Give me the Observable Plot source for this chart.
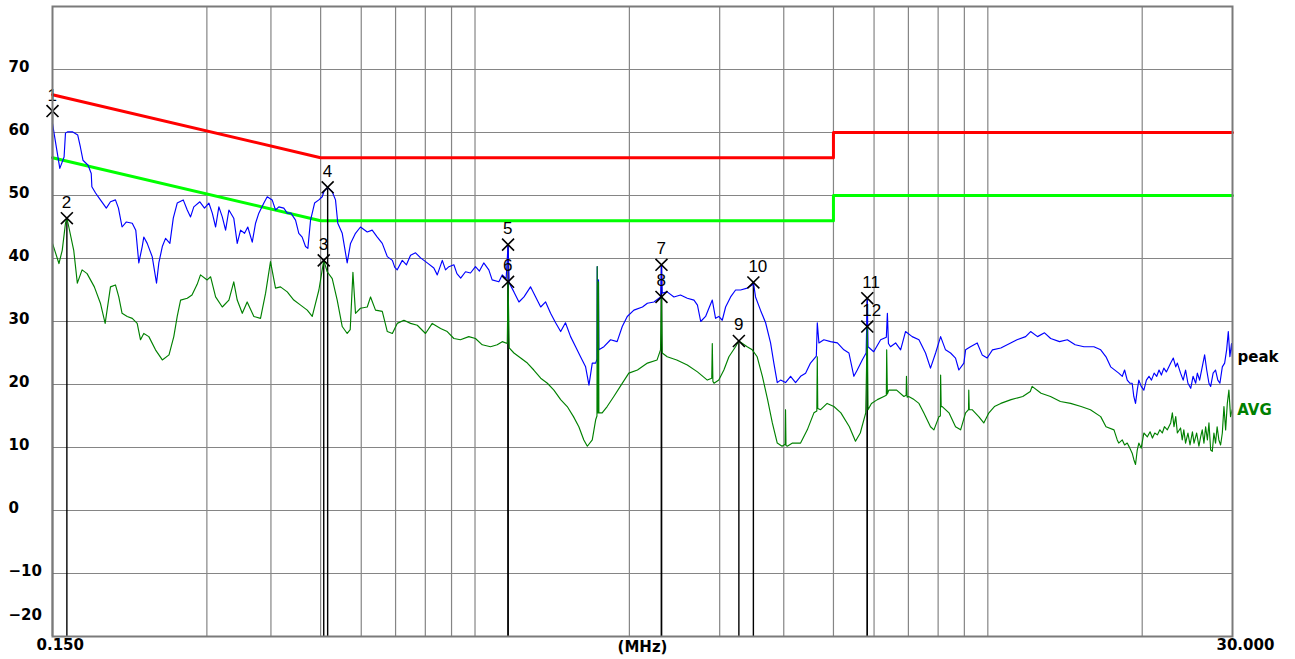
<!DOCTYPE html>
<html>
<head>
<meta charset="utf-8">
<script src="https://cdn.jsdelivr.net/npm/d3@7"></script>
<script src="https://cdn.jsdelivr.net/npm/@observablehq/plot@0.6"></script>
<style>
  html, body { margin: 0; padding: 0; background: #ffffff; }
  #chart svg { display: block; }
</style>
</head>
<body>
<div id="chart"></div>
<script>
// Conducted emission scan, 0.15 – 30 MHz, level in dBµV.

// Peak detector sweep: [MHz, dBµV]
const peakSweep = [
  [0.150, 61.4], [0.155, 54.3], [0.158, 56.1], [0.159, 59.9], [0.1604, 60.1], [0.164, 60.1], [0.168, 59.6], [0.170, 57.7],
  [0.172, 55.6], [0.176, 54.8], [0.1785, 53.5], [0.179, 51.4], [0.182, 50.4], [0.186, 49.3], [0.191, 48.0], [0.1946, 49.0],
  [0.199, 49.3], [0.2017, 48.0], [0.205, 45.0], [0.209, 45.8], [0.2146, 45.6], [0.218, 44.5], [0.221, 39.3], [0.2244, 41.9],
  [0.226, 43.4], [0.2295, 42.4], [0.2347, 40.3], [0.2393, 36.1], [0.2418, 39.3], [0.2456, 41.9], [0.2492, 43.2], [0.2541, 42.4],
  [0.258, 46.4], [0.2626, 48.8], [0.2698, 49.3], [0.2747, 47.7], [0.2788, 46.6], [0.2829, 48.2], [0.2907, 49.0], [0.2968, 48.0],
  [0.3027, 48.8], [0.3074, 47.2], [0.312, 45.0], [0.3166, 48.2], [0.3215, 46.6], [0.3263, 44.5], [0.3312, 47.7], [0.3385, 46.4],
  [0.3438, 42.4], [0.349, 44.5], [0.3553, 44.0], [0.3605, 45.0], [0.3678, 42.6], [0.3733, 45.6], [0.3788, 47.2], [0.3875, 48.8],
  [0.3934, 49.8], [0.4022, 49.3], [0.4083, 47.7], [0.4144, 48.2], [0.4238, 48.0], [0.4304, 47.2], [0.4375, 47.2], [0.4467, 46.1],
  [0.4533, 44.0], [0.4602, 43.4], [0.4672, 41.9], [0.4721, 41.6], [0.4779, 46.1], [0.4866, 48.8], [0.496, 49.3], [0.5036, 49.8],
  [0.5073, 50.6], [0.516, 51.3], [0.5267, 50.6], [0.5345, 49.3], [0.540, 45.6], [0.5509, 44.0], [0.5633, 39.3], [0.5718, 42.4],
  [0.5847, 44.0], [0.5979, 45.0], [0.6164, 44.2], [0.6302, 44.5], [0.6449, 43.4], [0.6594, 42.4], [0.6745, 40.3], [0.690, 39.7],
  [0.6975, 38.6], [0.7052, 38.2], [0.7214, 39.7], [0.735, 39.0], [0.7487, 40.5], [0.7657, 40.9], [0.7832, 40.1], [0.807, 39.3],
  [0.8312, 38.5], [0.8441, 37.4], [0.8634, 39.7], [0.876, 38.2], [0.8894, 38.7], [0.9095, 39.0], [0.922, 37.6], [0.9378, 36.9],
  [0.9583, 37.9], [0.980, 37.7], [1.002, 38.7], [1.020, 38.0], [1.040, 39.3], [1.064, 38.2], [1.080, 36.6], [1.113, 36.3],
  [1.130, 37.4], [1.150, 36.8], [1.160, 42.2], [1.166, 36.1], [1.191, 34.7], [1.218, 33.1], [1.246, 33.9], [1.283, 35.5],
  [1.313, 33.9], [1.343, 32.3], [1.373, 33.1], [1.404, 31.3], [1.436, 29.8], [1.469, 28.4], [1.501, 29.8], [1.536, 27.6],
  [1.571, 26.0], [1.606, 24.4], [1.643, 22.8], [1.668, 19.9], [1.693, 23.4], [1.719, 23.4], [1.729, 24.0], [1.731, 38.7],
  [1.734, 24.5], [1.739, 24.8], [1.741, 36.6], [1.744, 25.5], [1.784, 26.0], [1.838, 27.1], [1.893, 26.8], [1.937, 29.2],
  [1.981, 30.8], [2.041, 31.8], [2.121, 32.3], [2.168, 32.9], [2.233, 33.1], [2.301, 33.9], [2.310, 39.0], [2.318, 34.5],
  [2.37, 34.7], [2.443, 33.9], [2.516, 34.2], [2.594, 33.7], [2.673, 33.4], [2.715, 32.6], [2.755, 30.0], [2.816, 30.8],
  [2.858, 32.1], [2.902, 33.4], [2.945, 30.5], [2.988, 30.8], [3.035, 30.2], [3.081, 32.3], [3.151, 33.9], [3.222, 35.0],
  [3.295, 35.0], [3.394, 35.3], [3.472, 35.8], [3.490, 36.2], [3.524, 33.9], [3.603, 31.8], [3.687, 29.8], [3.77, 26.6],
  [3.826, 23.4], [3.885, 20.3], [3.943, 20.7], [4.032, 20.3], [4.125, 21.3], [4.218, 20.3], [4.314, 21.3], [4.412, 21.8],
  [4.51, 23.4], [4.63, 24.5], [4.65, 29.8], [4.684, 26.6], [4.789, 27.1], [4.936, 26.8], [5.089, 26.6], [5.24, 25.5],
  [5.36, 25.0], [5.48, 21.3], [5.564, 22.3], [5.69, 23.9], [5.79, 25.0], [5.82, 33.7], [5.84, 26.0], [5.99, 25.2],
  [6.18, 27.1], [6.34, 27.5], [6.37, 31.3], [6.40, 26.5], [6.46, 26.0], [6.61, 26.6], [6.76, 25.5], [6.91, 28.4],
  [7.12, 27.6], [7.34, 27.1], [7.56, 25.0], [7.73, 22.6], [7.91, 25.0], [8.09, 27.6], [8.27, 25.5], [8.46, 25.0],
  [8.65, 24.2], [8.78, 22.3], [8.98, 23.4], [9.05, 25.5], [9.25, 26.0], [9.535, 26.6], [9.75, 24.7], [9.97, 24.2],
  [10.21, 25.5], [10.6, 25.8], [11.08, 26.6], [11.4, 27.1], [11.85, 27.6], [12.12, 28.4], [12.5, 27.6], [12.9, 28.2],
  [13.26, 27.3], [13.8, 26.8], [14.29, 27.1], [14.8, 26.3], [15.4, 26.0], [16.1, 26.0], [16.6, 25.5], [17.0, 24.4],
  [17.36, 22.8], [18.0, 21.8], [18.29, 21.3], [18.48, 22.3], [18.7, 20.7], [18.92, 20.2], [19.12, 20.2], [19.26, 18.1],
  [19.41, 17.0], [19.56, 19.1], [19.7, 20.7], [19.91, 19.7], [20.15, 19.1], [20.38, 20.7], [20.62, 21.3], [20.85, 20.7],
  [21.1, 21.8], [21.35, 21.3], [21.57, 22.3], [21.8, 21.5], [22.04, 22.6], [22.29, 22.0], [22.39, 22.3], [22.73, 23.4],
  [23.0, 24.2], [23.25, 22.8], [23.42, 23.4], [23.76, 21.8], [24.04, 20.7], [24.3, 22.3], [24.56, 20.2], [24.87, 19.4],
  [25.13, 21.3], [25.43, 20.2], [25.62, 21.8], [25.88, 20.7], [26.19, 22.8], [26.47, 24.7], [26.72, 22.3], [26.99, 20.2],
  [27.2, 19.7], [27.5, 21.8], [27.8, 22.3], [28.09, 20.7], [28.35, 20.2], [28.66, 22.8], [28.96, 23.4], [29.22, 25.5],
  [29.44, 28.4], [29.65, 24.4], [29.87, 26.5], [30.0, 24.4]
];

// Average detector sweep: [MHz, dBµV]
const avgSweep = [
  [0.150, 42.4], [0.1544, 39.2], [0.1567, 41.3], [0.159, 45.6], [0.160, 46.4], [0.1614, 45.0], [0.165, 41.3], [0.1677, 36.1],
  [0.1713, 38.2], [0.1752, 37.6], [0.181, 35.5], [0.186, 32.9], [0.190, 29.7], [0.1946, 35.5], [0.199, 35.8], [0.202, 33.9],
  [0.205, 31.3], [0.2098, 30.8], [0.2146, 30.5], [0.2194, 29.7], [0.2227, 27.1], [0.226, 28.1], [0.2312, 27.6], [0.2382, 25.5],
  [0.2456, 23.9], [0.2531, 24.7], [0.2586, 27.6], [0.2626, 30.8], [0.2666, 33.4], [0.2747, 33.7], [0.2806, 34.2], [0.2872, 35.9],
  [0.2915, 37.4], [0.3004, 36.6], [0.3051, 37.1], [0.312, 33.9], [0.3215, 32.3], [0.3312, 33.4], [0.3385, 36.3], [0.3438, 33.4],
  [0.3517, 31.3], [0.3595, 33.1], [0.3705, 30.8], [0.3817, 30.5], [0.3905, 34.5], [0.3992, 39.5], [0.4083, 35.3], [0.4175, 35.5],
  [0.4304, 34.7], [0.4432, 33.4], [0.457, 32.6], [0.4708, 31.8], [0.4815, 30.8], [0.4961, 35.0], [0.507, 39.7], [0.515, 37.9],
  [0.5267, 36.8], [0.5386, 33.4], [0.5509, 29.2], [0.5633, 28.1], [0.571, 28.7], [0.578, 37.8], [0.5847, 31.3], [0.5979, 32.1],
  [0.6164, 32.3], [0.6256, 33.9], [0.6397, 31.8], [0.6594, 31.6], [0.6745, 28.4], [0.690, 28.1], [0.7052, 29.7], [0.7267, 30.2],
  [0.7487, 29.7], [0.7717, 29.4], [0.8007, 28.1], [0.8253, 29.7], [0.8567, 28.9], [0.8827, 28.4], [0.9095, 27.3], [0.9365, 27.1],
  [0.9725, 27.6], [1.002, 27.3], [1.033, 26.3], [1.072, 26.0], [1.105, 26.3], [1.130, 26.8], [1.156, 26.5], [1.160, 36.3],
  [1.166, 25.8], [1.191, 25.0], [1.2275, 24.2], [1.265, 23.4], [1.302, 22.3], [1.343, 21.0], [1.384, 20.2], [1.425, 19.1],
  [1.469, 17.6], [1.513, 16.5], [1.556, 14.9], [1.594, 13.3], [1.63, 11.2], [1.656, 10.2], [1.693, 11.2], [1.719, 14.4],
  [1.729, 15.0], [1.731, 38.7], [1.734, 15.5], [1.739, 15.5], [1.741, 36.3], [1.744, 15.5], [1.77, 15.5], [1.81, 16.5],
  [1.865, 18.1], [1.92, 19.7], [1.995, 21.8], [2.074, 22.3], [2.169, 23.4], [2.265, 23.9], [2.30, 25.5], [2.310, 33.9],
  [2.318, 25.0], [2.37, 24.4], [2.474, 23.9], [2.594, 23.1], [2.715, 22.0], [2.838, 20.7], [2.895, 21.0], [2.902, 26.5],
  [2.91, 20.5], [2.925, 20.2], [2.988, 20.7], [3.057, 22.3], [3.127, 24.4], [3.221, 26.0], [3.27, 26.9], [3.394, 26.0],
  [3.472, 25.5], [3.55, 24.4], [3.634, 21.3], [3.72, 17.6], [3.80, 13.9], [3.885, 10.7], [3.97, 10.2], [4.025, 10.5],
  [4.032, 16.0], [4.04, 10.3], [4.063, 10.2], [4.16, 10.7], [4.314, 10.7], [4.446, 12.8], [4.58, 15.5], [4.64, 15.8],
  [4.65, 24.4], [4.66, 16.2], [4.72, 16.0], [4.86, 17.0], [5.01, 16.5], [5.17, 15.5], [5.37, 13.3], [5.52, 11.0],
  [5.64, 12.3], [5.78, 15.5], [5.82, 29.2], [5.84, 16.0], [5.93, 17.0], [6.09, 17.6], [6.27, 18.1], [6.34, 18.3],
  [6.35, 25.5], [6.37, 18.5], [6.41, 19.1], [6.64, 19.1], [6.86, 18.1], [6.93, 18.3], [6.94, 21.3], [6.96, 18.0],
  [7.01, 18.1], [7.18, 17.6], [7.34, 17.0], [7.5, 15.5], [7.73, 13.3], [7.85, 12.8], [8.03, 14.9], [8.08, 15.0],
  [8.09, 21.5], [8.11, 16.5], [8.15, 16.5], [8.40, 15.5], [8.65, 13.3], [8.85, 12.8], [9.05, 15.5], [9.17, 16.0],
  [9.18, 19.1], [9.20, 16.0], [9.32, 16.0], [9.6, 14.9], [9.82, 13.9], [10.05, 15.5], [10.3, 16.5], [10.6, 17.0],
  [11.1, 17.6], [11.7, 18.1], [12.1, 18.9], [12.2, 19.7], [12.7, 18.6], [13.25, 18.1], [13.85, 17.3], [14.5, 17.0],
  [15.2, 16.5], [15.85, 16.0], [16.6, 14.9], [17.0, 13.3], [17.62, 12.8], [17.88, 11.2], [18.0, 10.7], [18.29, 11.2],
  [18.48, 10.4], [18.7, 10.7], [18.92, 9.9], [19.12, 9.1], [19.26, 8.1], [19.41, 7.3], [19.56, 9.6], [19.7, 10.7],
  [19.91, 9.9], [20.15, 12.3], [20.47, 11.7], [20.72, 12.5], [20.94, 11.5], [21.16, 12.3], [21.41, 12.0], [21.65, 12.8],
  [21.89, 12.3], [22.1, 13.3], [22.39, 12.8], [22.73, 13.9], [22.9, 15.5], [23.07, 13.3], [23.25, 14.9], [23.42, 12.3],
  [23.76, 13.1], [23.94, 11.2], [24.11, 12.8], [24.3, 10.7], [24.56, 12.3], [24.79, 10.4], [25.06, 12.5], [25.24, 10.7],
  [25.54, 12.3], [25.8, 10.2], [26.0, 11.7], [26.19, 12.8], [26.39, 10.7], [26.59, 13.3], [26.8, 11.2], [26.99, 13.9],
  [27.2, 9.6], [27.4, 9.4], [27.6, 12.3], [27.8, 10.7], [28.0, 13.3], [28.22, 11.2], [28.44, 10.4], [28.66, 12.3],
  [28.87, 16.5], [29.09, 12.8], [29.31, 17.0], [29.52, 19.1], [29.74, 14.9], [29.96, 16.0]
];

// Limit lines: [MHz, dBµV]
const qpLimit = [[0.15, 66], [0.5, 56], [5, 56], [5, 60], [30, 60]];
const avLimit = [[0.15, 56], [0.5, 46], [5, 46], [5, 50], [30, 50]];

// Marker table
const markerNo = [1, 2, 3, 4, 5, 6, 7, 8, 9, 10, 11, 12];
const markerFreq = [0.150, 0.160, 0.507, 0.516, 1.16, 1.16, 2.31, 2.31, 3.27, 3.49, 5.82, 5.82];
const markerLevel = [63.4, 46.4, 39.7, 51.3, 42.2, 36.3, 39.0, 33.9, 26.9, 36.2, 33.7, 29.2];

// Axis ticks and grid
const yTickValues = [70, 60, 50, 40, 30, 20, 10, 0, -10];
const yBottomTick = [-20];
const yGridValues = [70, 60, 50, 40, 30, 20, 10, 0, -10];
const xGridValues = [0.3, 0.4, 0.5, 0.6, 0.7, 0.8, 0.9, 1, 2, 3, 4, 5, 6, 7, 8, 9, 10, 20];
const xLabelValues = [0.15, 30];

const markers = markerNo.map((no, i) => ({no, f: markerFreq[i], v: markerLevel[i]}));
const fx = d => d[0];
const vy = d => d[1];

const axisFont = {fontFamily: "DejaVu Sans", fontWeight: "bold", fontSize: 15};

const chart = Plot.plot({
  width: 1295,
  height: 659,
  marginLeft: 52,
  marginRight: 63,
  marginTop: 6,
  marginBottom: 23,
  x: {type: "log", domain: [0.15, 30]},
  y: {domain: [-20, 80]},
  style: {background: "#ffffff", color: "#000000"},
  marks: [
    Plot.gridX(xGridValues, {stroke: "#858585", strokeOpacity: 1, strokeWidth: 1.2}),
    Plot.gridY(yGridValues, {stroke: "#858585", strokeOpacity: 1, strokeWidth: 1.2}),
    Plot.line(qpLimit, {x: fx, y: vy, stroke: "#ff0000", strokeWidth: 3}),
    Plot.line(avLimit, {x: fx, y: vy, stroke: "#00ff00", strokeWidth: 3}),
    Plot.ruleX(markers, {x: "f", y1: -20, y2: "v", stroke: "#000000", strokeWidth: 1.4}),
    Plot.line(peakSweep, {x: fx, y: vy, stroke: "#0000ff", strokeWidth: 1.15}),
    Plot.line(avgSweep, {x: fx, y: vy, stroke: "#008000", strokeWidth: 1.15}),
    Plot.dot(markers, {x: "f", y: "v", symbol: "times", r: 5.5, stroke: "#000000", strokeWidth: 1.6}),
    Plot.text(markers, {
      x: "f", y: "v", text: d => String(d.no),
      textAnchor: "start", dx: -5, dy: -16,
      fontFamily: "Liberation Sans", fontSize: 17, fill: "#000000"
    }),
    Plot.text([peakSweep[peakSweep.length - 1]], {
      x: fx, y: vy, text: () => "peak", textAnchor: "start", dx: 5, fill: "#000000", ...axisFont
    }),
    Plot.text([avgSweep[avgSweep.length - 1]], {
      x: fx, y: vy, text: () => "AVG", textAnchor: "start", dx: 5, fill: "#008000", ...axisFont
    }),
    Plot.frame({stroke: "#7a7a7a", strokeWidth: 2}),
    Plot.axisY(yTickValues, {
      tickSize: 0, tickPadding: 0, textAnchor: "start", dx: -44, dy: -2, label: null, ...axisFont
    }),
    Plot.axisY(yBottomTick, {
      tickSize: 0, tickPadding: 0, textAnchor: "start", dx: -44, dy: -21, label: null, ...axisFont
    }),
    Plot.axisX(xLabelValues, {
      tickSize: 0, tickPadding: 3, textAnchor: "start", dx: -16,
      tickFormat: d3.format(".3f"), label: null, ...axisFont
    }),
    Plot.text(["(MHz)"], {frameAnchor: "bottom", dy: 11, lineAnchor: "middle", fill: "#000000", ...axisFont})
  ]
});

document.getElementById("chart").appendChild(chart);
</script>
</body>
</html>
